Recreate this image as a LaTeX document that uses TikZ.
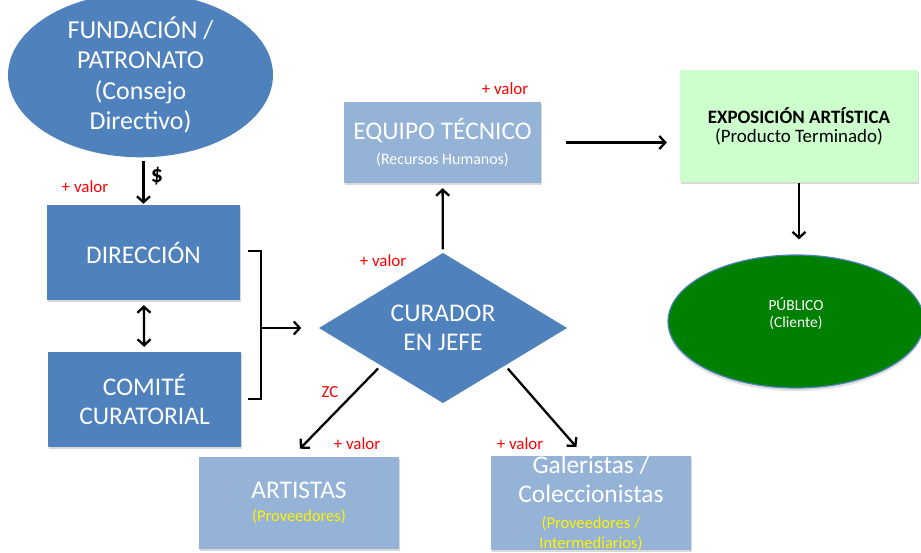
\documentclass[tikz,border=0pt]{standalone}
\usepackage{fontspec}
\setmainfont{Carlito}
\usetikzlibrary{shapes.geometric,shadows,arrows.meta}
\definecolor{azul}{RGB}{79,129,189}
\definecolor{celeste}{RGB}{149,179,215}
\definecolor{verdeclaro}{RGB}{204,255,204}
\definecolor{verde}{RGB}{0,128,0}
\tikzset{
  caja/.style={rectangle, fill=azul, text=white, inner sep=0pt, align=center,
    drop shadow={opacity=0.3, shadow xshift=1bp, shadow yshift=-2bp}},
  cajaclara/.style={caja, fill=celeste},
  grande/.style={font=\fontsize{25.5}{29}\selectfont},
  valor/.style={text=red, inner sep=0pt, font=\fontsize{17}{19}\selectfont},
}
\newcommand{\chico}{\fontsize{16.5}{19}\selectfont}
\begin{document}
\begin{tikzpicture}[x=1bp,y=-1bp, line width=2.3bp, >={Straight Barb[length=6bp,width=13bp]}] %[scale=0.8]
      \useasboundingbox (0,0) rectangle (921,553);
      \node[ellipse, fill=azul, text=white, align=center, inner sep=0pt,
        font=\fontsize{26}{30.5}\selectfont,
        minimum width=265bp, minimum height=136bp] (fund) at (140.5,75)
        {FUNDACIÓN /\\PATRONATO\\(Consejo\\Directivo)};
      \node[caja, grande, minimum width=193bp, minimum height=95bp] (dir) at (143.5,252.5) {DIRECCIÓN};
      \node[caja, grande, minimum width=193bp, minimum height=95bp] (com) at (144.5,399.5) {COMITÉ\\CURATORIAL};
      \node[diamond, aspect=1.65, fill=azul, text=white, grande, align=center, inner sep=0pt,
        minimum width=249bp, minimum height=151bp] (cur) at (443,328) {CURADOR\\EN JEFE};
      \node[cajaclara, minimum width=197bp, minimum height=81bp, font=\fontsize{16}{26}\selectfont] (equipo) at (442.5,142.5)
        {{\fontsize{25.5}{29}\selectfont EQUIPO TÉCNICO}\\(Recursos Humanos)};
      \node[caja, fill=verdeclaro, text=black, minimum width=238bp, minimum height=112bp,
        font=\fontsize{19}{19}\selectfont] (expo) at (799,126)
        {\textbf{EXPOSICIÓN ARTÍSTICA}\\(Producto Terminado)};
      \node[ellipse, fill=verde, draw=azul, line width=1.2bp, text=white, align=center, inner sep=0pt,
        font=\fontsize{15.5}{17.5}\selectfont,
        drop shadow={opacity=0.25, shadow xshift=0bp, shadow yshift=-3bp},
        minimum width=256bp, minimum height=133bp] (pub) at (796,321.5)
        {PÚBLICO\\(Cliente)\\ ~};
      \node[cajaclara, grande, minimum width=200bp, minimum height=92bp] (art) at (299,503)
        {ARTISTAS\\[-6bp]{\color{yellow}\chico (Proveedores)}};
      \node[cajaclara, grande, minimum width=200bp, minimum height=92bp] (gal) at (591,503)
        {Galeristas /\\Coleccionistas\\[-3bp]{\color{yellow}\chico (Proveedores /}\\[-9bp]{\color{yellow}\chico Intermediarios)}};
      \node[font=\bfseries\fontsize{24}{26}\selectfont] (dolar) at (157,176) {\$};
      \node[valor] (v1) at (85,187) {+ valor};
      \node[valor] (v2) at (505,89) {+ valor};
      \node[valor] (v3) at (383,261) {+ valor};
      \node[valor] (zc) at (330,392) {ZC};
      \node[valor] (v4) at (357,444) {+ valor};
      \node[valor] (v5) at (520,444) {+ valor};
      \coordinate (b1) at (248,251);
      \coordinate (b2) at (261,251);
      \coordinate (b3) at (261,399);
      \coordinate (b4) at (248,399);
      \coordinate (b5) at (261,328);
      \draw [->, shorten <=3bp] (fund.south -| dir.north) -- (dir.north);
      \draw [<->, shorten <=4bp, shorten >=4bp] (dir) -- (com);
      \draw (b1) -- (b2) -- (b3) -- (b4);
      \draw [->, shorten >=16bp] (b5) -- (cur);
      \draw [->, shorten <=2bp, shorten >=4bp] (cur) -- (equipo);
      \draw [->, shorten <=24bp, shorten >=12bp] (equipo.east) -- (equipo.east -| expo.west);
      \draw [->, shorten >=15bp] (expo.south) -- (expo.south |- pub.north);
      \draw [->, shorten <=3bp, shorten >=10bp] (cur.south west) -- ([xshift=-6bp]art.north);
      \draw [->, shorten <=3bp, shorten >=10bp] (cur.south east) -- ([xshift=-8bp]gal.north);
    \end{tikzpicture}
\end{document}
